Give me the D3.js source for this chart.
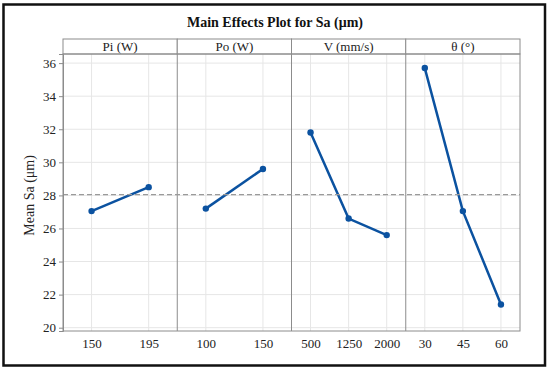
<!DOCTYPE html>
<meta charset="utf-8">
<style>
body { margin: 0; background: #fff; }
svg { display: block; font-family: "Liberation Serif", "DejaVu Serif", serif; }
.grid line { stroke: #e6e6e6; stroke-width: 1; }
.axis .domain { stroke: #8c8c8c; }
.axis .tick line { stroke: #8c8c8c; }
.axis text { font-size: 13px; fill: #222; font-family: "Liberation Serif", serif; }
</style>
<svg width="550" height="373"></svg>
<script src="https://cdn.jsdelivr.net/npm/d3@7/dist/d3.min.js"></script>
<script>

// factors and their levels
var factors = ["Pi (W)", "Po (W)", "V (mm/s)", "θ (°)"];
var levels = [
  ["150", "195"],
  ["100", "150"],
  ["500", "1250", "2000"],
  ["30", "45", "60"]
];
var means = [
  [27.05, 28.5],
  [27.2, 29.6],
  [31.8, 26.6, 25.6],
  [35.7, 27.05, 21.4]
];
var grandMean = 28.05;
var yTicks = [20, 22, 24, 26, 28, 30, 32, 34, 36];

var svg = d3.select("svg"),
    margin = {top: 54, right: 30, bottom: 42, left: 63},
    width = 520 - margin.left,
    height = 331 - margin.top,
    g = svg.append("g").attr("transform", "translate(" + margin.left + "," + margin.top + ")");

// outer frame
svg.append("rect")
    .attr("x", 3.5).attr("y", 4.5)
    .attr("width", 541.5).attr("height", 361)
    .attr("fill", "none")
    .attr("stroke", "#111")
    .attr("stroke-width", 2.5);

svg.append("text")
    .attr("x", 275)
    .attr("y", 27)
    .attr("text-anchor", "middle")
    .attr("font-weight", "bold")
    .attr("font-size", "14px")
    .attr("fill", "#111")
    .text("Main Effects Plot for Sa (μm)");

var y = d3.scaleLinear()
    .domain([19.8, 36.55])
    .range([height, 0]);

var panel = d3.scaleBand()
    .domain(factors)
    .range([0, width]);

// horizontal grid
g.append("g").attr("class", "grid")
  .selectAll("line")
  .data(yTicks)
  .enter().append("line")
    .attr("x1", 0).attr("x2", width)
    .attr("y1", function(d) { return y(d); })
    .attr("y2", function(d) { return y(d); });

var line = d3.line()
    .x(function(d) { return d.x; })
    .y(function(d) { return y(d.v); });

factors.forEach(function(f, i) {
  var p = g.append("g").attr("transform", "translate(" + panel(f) + ",0)");
  var x = d3.scalePoint()
      .domain(levels[i])
      .range([0, panel.bandwidth()])
      .padding(0.5);

  // vertical grid
  p.append("g").attr("class", "grid")
    .selectAll("line")
    .data(levels[i])
    .enter().append("line")
      .attr("x1", function(d) { return x(d); })
      .attr("x2", function(d) { return x(d); })
      .attr("y1", 0).attr("y2", height);

  // x axis
  p.append("g")
      .attr("class", "axis")
      .attr("transform", "translate(0," + height + ")")
      .call(d3.axisBottom(x).tickSize(0).tickPadding(8))
      .select(".domain").remove();

  // strip header
  p.append("rect")
      .attr("x", 0).attr("y", -15)
      .attr("width", panel.bandwidth()).attr("height", 15)
      .attr("fill", "#fff")
      .attr("stroke", "#8c8c8c");
  p.append("text")
      .attr("x", panel.bandwidth() / 2)
      .attr("y", -3)
      .attr("text-anchor", "middle")
      .attr("font-size", "13px")
      .attr("fill", "#222")
      .text(f);

  if (i > 0) {
    p.append("line")
        .attr("x1", 0).attr("x2", 0)
        .attr("y1", 0).attr("y2", height)
        .attr("stroke", "#8c8c8c");
  }

  var pts = levels[i].map(function(l, j) { return {x: x(l), v: means[i][j]}; });
  p.append("path")
      .datum(pts)
      .attr("fill", "none")
      .attr("stroke", "#0b52a0")
      .attr("stroke-width", 2.5)
      .attr("d", line);
  p.selectAll("circle")
    .data(pts)
    .enter().append("circle")
      .attr("cx", function(d) { return d.x; })
      .attr("cy", function(d) { return y(d.v); })
      .attr("r", 3.2)
      .attr("fill", "#0b52a0");
});

// grand mean reference line
g.append("line")
    .attr("x1", 0).attr("x2", width)
    .attr("y1", y(grandMean)).attr("y2", y(grandMean))
    .attr("stroke", "#9a9a9a")
    .attr("stroke-width", 1.2)
    .attr("stroke-dasharray", "5,3");

// plot frame
g.append("rect")
    .attr("width", width).attr("height", height)
    .attr("fill", "none")
    .attr("stroke", "#8c8c8c");

g.append("g")
    .attr("class", "axis")
    .call(d3.axisLeft(y).tickValues(yTicks).tickSize(4).tickPadding(3));

g.append("text")
    .attr("transform", "translate(-29," + (y(28)) + ") rotate(-90)")
    .attr("text-anchor", "middle")
    .attr("font-size", "14px")
    .attr("fill", "#222")
    .text("Mean Sa (μm)");

</script>
